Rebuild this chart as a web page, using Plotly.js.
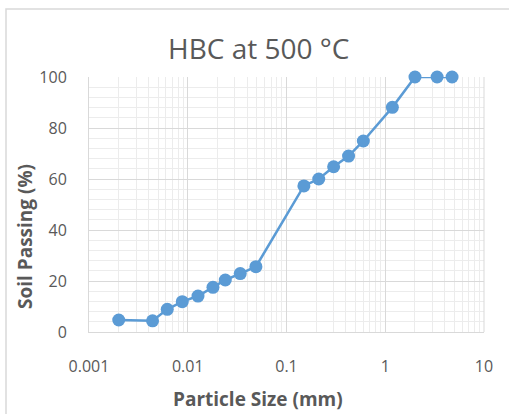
<!DOCTYPE html>
<html><head><meta charset="utf-8">
<script src="https://cdn.plot.ly/plotly-3.0.1.min.js"></script>
<style>html,body{margin:0;padding:0;background:#fff;}#chart{width:509px;height:414px;}</style>
</head><body><div id="chart"></div>
<script>
const particleSize = [0.002, 0.0044, 0.0062, 0.0088, 0.0127, 0.018, 0.024, 0.034, 0.049, 0.15, 0.212, 0.3, 0.425, 0.6, 1.18, 2.0, 3.35, 4.75];
const soilPassing  = [4.7, 4.4, 8.9, 11.9, 14.1, 17.5, 20.4, 22.9, 25.6, 57.3, 60.0, 64.8, 69.0, 74.9, 88.1, 100, 100, 100];
const xTickVals = [0.001, 0.01, 0.1, 1, 10];
const xTickText = ['0.001', '0.01', '0.1', '1', '10'];
const chartTitle = 'HBC at 500 °C';
const xTitle = 'Particle Size (mm)';
const yTitle = 'Soil Passing (%)';

const font = 'Open Sans, Noto Sans, sans-serif';
const grey = '#595959';

const trace = {
  x: particleSize, y: soilPassing, type: 'scatter', mode: 'lines+markers',
  line: {color: '#5b9bd5', width: 2.5},
  marker: {color: '#5b9bd5', size: 13},
  cliponaxis: false,
  showlegend: false
};

const layout = {
  width: 509, height: 414,
  margin: {l: 89, r: 25, t: 77, b: 82},
  paper_bgcolor: '#fff', plot_bgcolor: '#fff',
  font: {family: font, color: grey, size: 16},
  xaxis: {
    type: 'log', range: [-3, 1], tickvals: xTickVals, ticktext: xTickText,
    showgrid: true, gridcolor: '#d9d9d9', gridwidth: 1,
    minor: {showgrid: true, dtick: 'D1', gridcolor: '#ececec', gridwidth: 1, ticks: ''},
    showline: true, linecolor: '#d9d9d9', linewidth: 1, mirror: false,
    zeroline: false, ticks: '', ticklabelstandoff: 20,
    tickfont: {family: font, size: 16, color: grey}
  },
  yaxis: {
    range: [0, 100], dtick: 20, tick0: 0,
    showgrid: true, gridcolor: '#d9d9d9', gridwidth: 1,
    minor: {showgrid: true, dtick: 4, gridcolor: '#ececec', gridwidth: 1, ticks: ''},
    showline: true, linecolor: '#d9d9d9', linewidth: 1,
    zeroline: false, ticks: '', ticklabelstandoff: 18,
    tickfont: {family: font, size: 16, color: grey}
  },
  shapes: [
    {type: 'rect', xref: 'paper', yref: 'paper', x0: -83/395, x1: 1.2, y0: -0.45, y1: (332-9)/255,
     line: {color: '#d9d9d9', width: 1.5}, fillcolor: 'rgba(0,0,0,0)', layer: 'below'},
    {type: 'line', xref: 'paper', yref: 'paper', x0: 1, x1: 1, y0: 0, y1: 1,
     line: {color: '#d9d9d9', width: 1}}
  ],
  annotations: [
    {text: chartTitle, xref: 'paper', yref: 'paper', x: (258-89)/395, y: (332-48)/255,
     xanchor: 'center', yanchor: 'middle', showarrow: false,
     font: {family: font, size: 28, color: grey}},
    {text: '<b>' + xTitle + '</b>', xref: 'paper', yref: 'paper', x: (258-89)/395, y: (332-399)/255,
     xanchor: 'center', yanchor: 'middle', showarrow: false,
     font: {family: font, size: 19, color: grey}},
    {text: '<b>' + yTitle + '</b>', xref: 'paper', yref: 'paper', x: (25-89)/395, y: (332-237)/255,
     xanchor: 'center', yanchor: 'middle', showarrow: false, textangle: -90,
     font: {family: font, size: 19, color: grey}}
  ]
};

Plotly.newPlot('chart', [trace], layout, {displayModeBar: false, staticPlot: true});
</script>
</body></html>
